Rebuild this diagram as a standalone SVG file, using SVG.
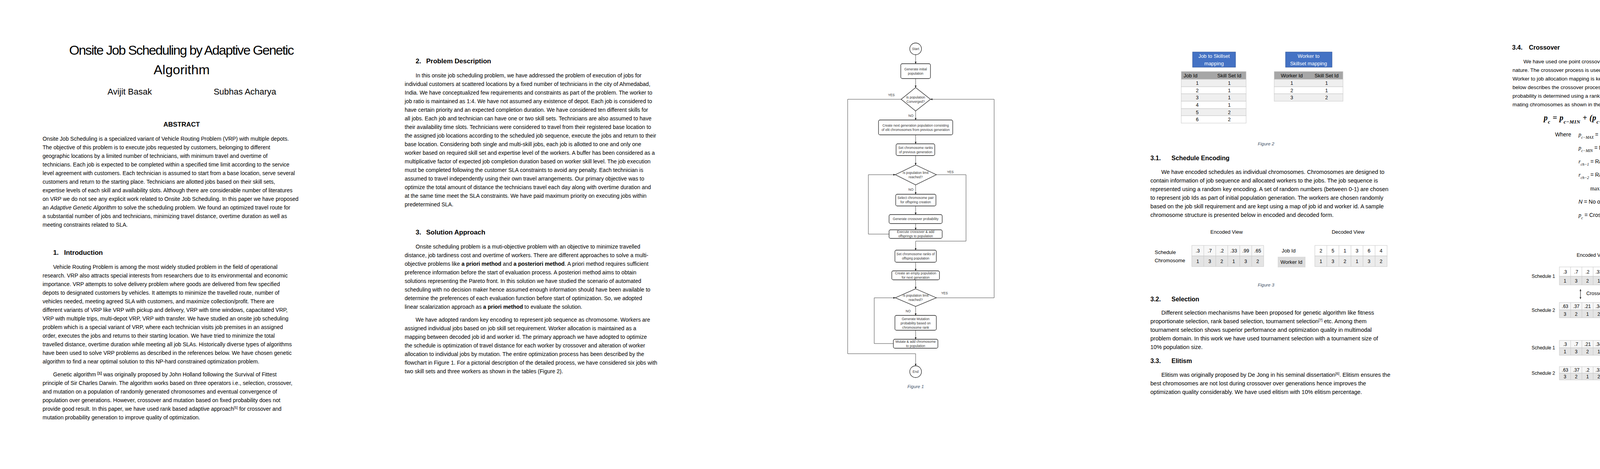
<svg xmlns="http://www.w3.org/2000/svg" width="4635" height="1200" viewBox="0 0 4635 1200">
<style>
text{font-family:"Liberation Sans",Arial,sans-serif;fill:#000}
.t1{font-size:14px}
.t2{font-size:14px}
.t3{font-size:14.5px}
.h{font-size:17px;font-weight:bold}
.hs{font-size:16px;font-weight:bold}
.cap{font-size:11.5px;font-style:italic;fill:#44546a}
.fc{font-size:8.6px;fill:#333;text-anchor:middle}
.fl{font-size:8.6px;fill:#333}
.nd rect,.nd polygon,.nd circle{fill:#fff;stroke:#222;stroke-width:1.3}
.cn{fill:none;stroke:#444;stroke-width:1}
.blue{fill:#4472c4;stroke:#2f5597;stroke-width:1}
.bw{font-size:13px;fill:#fff;text-anchor:middle}
.c{text-anchor:middle}
.cell{font-size:12.5px;text-anchor:middle}
.r1{fill:#f7f7f7;stroke:#c8c8c8;stroke-width:1}
.r2{fill:#e4e4e4;stroke:#c8c8c8;stroke-width:1}
.sep{stroke:#c8c8c8;stroke-width:1}
.m{font-family:"Liberation Serif",serif;font-style:italic;font-weight:bold}
.mi{font-family:"Liberation Serif",serif;font-style:italic}
</style>
<defs>
<marker id="ah" viewBox="0 0 10 10" refX="10" refY="5" markerWidth="5" markerHeight="5" orient="auto"><path d="M0,0L10,5L0,10z" fill="#222"/></marker>
<marker id="ah2" viewBox="0 0 10 10" refX="10" refY="5" markerWidth="4" markerHeight="4" orient="auto-start-reverse"><path d="M0,0L10,5L0,10z" fill="#333"/></marker>
</defs>
<rect width="4635" height="1200" fill="#fff"/>

<!-- Column 1 -->
<g id="col1">
<text x="465" y="140" class="c" style="font-size:34px" textLength="576">Onsite Job Scheduling by Adaptive Genetic</text>
<text x="465" y="190" class="c" style="font-size:34px">Algorithm</text>
<text x="332" y="242" class="c" style="font-size:22px">Avijit Basak</text>
<text x="627" y="242" class="c" style="font-size:22px">Subhas Acharya</text>
<text x="465" y="324" class="c" style="font-size:17px;font-weight:bold">ABSTRACT</text>
<g class="t1">
<text x="109" y="360">Onsite Job Scheduling is a specialized variant of Vehicle Routing Problem (VRP) with multiple depots.</text>
<text x="109" y="382">The objective of this problem is to execute jobs requested by customers, belonging to different</text>
<text x="109" y="404">geographic locations by a limited number of technicians, with minimum travel and overtime of</text>
<text x="109" y="426">technicians. Each job is expected to be completed within a specified time limit according to the service</text>
<text x="109" y="448">level agreement with customers. Each technician is assumed to start from a base location, serve several</text>
<text x="109" y="470">customers and return to the starting place. Technicians are allotted jobs based on their skill sets,</text>
<text x="109" y="492">expertise levels of each skill and availability slots. Although there are considerable number of literatures</text>
<text x="109" y="514">on VRP we do not see any explicit work related to Onsite Job Scheduling. In this paper we have proposed</text>
<text x="109" y="536">an <tspan font-style="italic">Adaptive Genetic Algorithm</tspan> to solve the scheduling problem. We found an optimized travel route for</text>
<text x="109" y="558">a substantial number of jobs and technicians, minimizing travel distance, overtime duration as well as</text>
<text x="109" y="580">meeting constraints related to SLA.</text>
</g>
<text x="136" y="652" class="h">1.<tspan x="164">Introduction</tspan></text>
<g class="t1">
<text x="136" y="688">Vehicle Routing Problem is among the most widely studied problem in the field of operational</text>
<text x="109" y="710">research. VRP also attracts special interests from researchers due to its environmental and economic</text>
<text x="109" y="732">importance. VRP attempts to solve delivery problem where goods are delivered from few specified</text>
<text x="109" y="754">depots to designated customers by vehicles. It attempts to minimize the travelled route, number of</text>
<text x="109" y="776">vehicles needed, meeting agreed SLA with customers, and maximize collection/profit. There are</text>
<text x="109" y="798">different variants of VRP like VRP with pickup and delivery, VRP with time windows, capacitated VRP,</text>
<text x="109" y="820">VRP with multiple trips, multi-depot VRP, VRP with transfer. We have studied an onsite job scheduling</text>
<text x="109" y="842">problem which is a special variant of VRP, where each technician visits job premises in an assigned</text>
<text x="109" y="864">order, executes the jobs and returns to their starting location. We have tried to minimize the total</text>
<text x="109" y="886">travelled distance, overtime duration while meeting all job SLAs. Historically diverse types of algorithms</text>
<text x="109" y="908">have been used to solve VRP problems as described in the references below. We have chosen genetic</text>
<text x="109" y="930">algorithm to find a near optimal solution to this NP-hard constrained optimization problem.</text>
<text x="136" y="963">Genetic algorithm <tspan font-size="9" baseline-shift="super" font-weight="bold">[1]</tspan> was originally proposed by John Holland following the Survival of Fittest</text>
<text x="109" y="985">principle of Sir Charles Darwin. The algorithm works based on three operators i.e., selection, crossover,</text>
<text x="109" y="1007">and mutation on a population of randomly generated chromosomes and eventual convergence of</text>
<text x="109" y="1029">population over generations. However, crossover and mutation based on fixed probability does not</text>
<text x="109" y="1051">provide good result. In this paper, we have used rank based adaptive approach<tspan font-size="9" baseline-shift="super">[5]</tspan> for crossover and</text>
<text x="109" y="1073">mutation probability generation to improve quality of optimization.</text>
</g>
</g>

<!-- Column 2 -->
<g id="col2">
<text x="1064" y="162" class="h">2.<tspan x="1091">Problem Description</tspan></text>
<g class="t2">
<text x="1064" y="198">In this onsite job scheduling problem, we have addressed the problem of execution of jobs for</text>
<text x="1036" y="220">individual customers at scattered locations by a fixed number of technicians in the city of Ahmedabad,</text>
<text x="1036" y="242">India. We have conceptualized few requirements and constraints as part of the problem. The worker to</text>
<text x="1036" y="264">job ratio is maintained as 1:4. We have not assumed any existence of depot. Each job is considered to</text>
<text x="1036" y="286">have certain priority and an expected completion duration. We have considered ten different skills for</text>
<text x="1036" y="308">all jobs. Each job and technician can have one or two skill sets. Technicians are also assumed to have</text>
<text x="1036" y="330">their availability time slots. Technicians were considered to travel from their registered base location to</text>
<text x="1036" y="352">the assigned job locations according to the scheduled job sequence, execute the jobs and return to their</text>
<text x="1036" y="374">base location. Considering both single and multi-skill jobs, each job is allotted to one and only one</text>
<text x="1036" y="396">worker based on required skill set and expertise level of the workers. A buffer has been considered as a</text>
<text x="1036" y="418">multiplicative factor of expected job completion duration based on worker skill level. The job execution</text>
<text x="1036" y="440">must be completed following the customer SLA constraints to avoid any penalty. Each technician is</text>
<text x="1036" y="462">assumed to travel independently using their own travel arrangements. Our primary objective was to</text>
<text x="1036" y="484">optimize the total amount of distance the technicians travel each day along with overtime duration and</text>
<text x="1036" y="506">at the same time meet the SLA constraints. We have paid maximum priority on executing jobs within</text>
<text x="1036" y="528">predetermined SLA.</text>
</g>
<text x="1064" y="600" class="h">3.<tspan x="1091">Solution Approach</tspan></text>
<g class="t2">
<text x="1064" y="636">Onsite scheduling problem is a muti-objective problem with an objective to minimize travelled</text>
<text x="1036" y="658">distance, job tardiness cost and overtime of workers. There are different approaches to solve a multi-</text>
<text x="1036" y="680">objective problems like <tspan font-weight="bold">a priori method</tspan> and <tspan font-weight="bold">a posteriori method</tspan>. A priori method requires sufficient</text>
<text x="1036" y="702">preference information before the start of evaluation process. A posteriori method aims to obtain</text>
<text x="1036" y="724">solutions representing the Pareto front. In this solution we have studied the scenario of automated</text>
<text x="1036" y="746">scheduling with no decision maker hence assumed enough information should have been available to</text>
<text x="1036" y="768">determine the preferences of each evaluation function before start of optimization. So, we adopted</text>
<text x="1036" y="790">linear scalarization approach as <tspan font-weight="bold">a priori method</tspan> to evaluate the solution.</text>
<text x="1064" y="823">We have adopted random key encoding to represent job sequence as chromosome. Workers are</text>
<text x="1036" y="845">assigned individual jobs based on job skill set requirement. Worker allocation is maintained as a</text>
<text x="1036" y="867">mapping between decoded job id and worker id. The primary approach we have adopted to optimize</text>
<text x="1036" y="889">the schedule is optimization of travel distance for each worker by crossover and alteration of worker</text>
<text x="1036" y="911">allocation to individual jobs by mutation. The entire optimization process has been described by the</text>
<text x="1036" y="933">flowchart in Figure 1. For a pictorial description of the detailed process, we have considered six jobs with</text>
<text x="1036" y="955">two skill sets and three workers as shown in the tables (Figure 2).</text>
</g>
</g>

<!-- Flowchart connectors -->
<g id="connectors" class="cn">
<path d="M2344,140V163" marker-end="url(#ah)"/>
<path d="M2344,201V224" marker-end="url(#ah)"/>
<path d="M2344,284V307" marker-end="url(#ah)"/>
<path d="M2344,345V368" marker-end="url(#ah)"/>
<path d="M2344,398V422" marker-end="url(#ah)"/>
<path d="M2344,473V497" marker-end="url(#ah)"/>
<path d="M2344,527V549" marker-end="url(#ah)"/>
<path d="M2344,572V588" marker-end="url(#ah)"/>
<path d="M2276,599H2223V447H2292" marker-end="url(#ah)"/>
<path d="M2397,447H2473V617H2344V640" marker-end="url(#ah)"/>
<path d="M2344,671V693" marker-end="url(#ah)"/>
<path d="M2344,716V739" marker-end="url(#ah)"/>
<path d="M2344,784V807" marker-end="url(#ah)"/>
<path d="M2344,845V868" marker-end="url(#ah)"/>
<path d="M2287,879H2238V762H2292" marker-end="url(#ah)"/>
<path d="M2397,762H2545V254H2382" marker-end="url(#ah)"/>
<path d="M2307,254H2170V905H2344V936" marker-end="url(#ah)"/>
</g>
<g id="conn-labels">
<text x="2282" y="246" class="fl" text-anchor="middle">YES</text>
<text x="2332" y="299" class="fl" text-anchor="middle">NO</text>
<text x="2433" y="443" class="fl" text-anchor="middle">YES</text>
<text x="2332" y="488" class="fl" text-anchor="middle">NO</text>
<text x="2418" y="753" class="fl" text-anchor="middle">YES</text>
<text x="2325" y="799" class="fl" text-anchor="middle">NO</text>
</g>
<g id="start" class="nd"><circle cx="2344" cy="125" r="15"/><text x="2344" y="128" class="fc">Start</text></g>
<g id="genpop" class="nd"><rect x="2306" y="163" width="76" height="38" rx="4"/><text x="2344" y="180" class="fc">Generate initial</text><text x="2344" y="191" class="fc">population</text></g>
<g id="conv" class="nd"><polygon points="2344,224 2382,254 2344,284 2307,254"/><text x="2344" y="252" class="fc">Is population</text><text x="2344" y="263" class="fc">Converged?</text></g>
<g id="nextgen" class="nd"><rect x="2249" y="307" width="190" height="38" rx="4"/><text x="2344" y="324" class="fc">Create next generation  population consisting</text><text x="2344" y="335" class="fc">of elit chromosomes from previous generation</text></g>
<g id="ranks1" class="nd"><rect x="2294" y="368" width="99" height="30" rx="4"/><text x="2344" y="381" class="fc">Set chromosome ranks</text><text x="2344" y="392" class="fc">of previous generation</text></g>
<g id="limit1" class="nd"><polygon points="2344,422 2397,447 2344,473 2292,447"/><text x="2344" y="445" class="fc">Is population limit</text><text x="2344" y="456" class="fc">reached?</text></g>
<g id="select" class="nd"><rect x="2293" y="497" width="103" height="30" rx="4"/><text x="2344" y="509" class="fc">Select chromosome pair</text><text x="2344" y="520" class="fc">for offspring creation</text></g>
<g id="genxo" class="nd"><rect x="2276" y="549" width="136" height="23" rx="4"/><text x="2344" y="563" class="fc">Generate crossover probability</text></g>
<g id="execxo" class="nd"><rect x="2276" y="588" width="136" height="22" rx="4"/><text x="2344" y="596" class="fc">Execute crossover &amp; add</text><text x="2344" y="607" class="fc">offsprings to population</text></g>
<g id="ranks2" class="nd"><rect x="2291" y="640" width="106" height="31" rx="4"/><text x="2344" y="653" class="fc">Set chromosome ranks of</text><text x="2344" y="664" class="fc">offsprig population</text></g>
<g id="empty" class="nd"><rect x="2283" y="693" width="122" height="23" rx="4"/><text x="2344" y="702" class="fc">Create an empty population</text><text x="2344" y="713" class="fc">for next generation</text></g>
<g id="limit2" class="nd"><polygon points="2344,739 2397,762 2344,784 2292,762"/><text x="2344" y="759" class="fc">Is population limit</text><text x="2344" y="770" class="fc">reached?</text></g>
<g id="mutprob" class="nd"><rect x="2291" y="807" width="106" height="38" rx="4"/><text x="2344" y="819" class="fc">Generate Mutation</text><text x="2344" y="830" class="fc">probability based on</text><text x="2344" y="841" class="fc">chromosome rank</text></g>
<g id="mutate" class="nd"><rect x="2287" y="868" width="114" height="23" rx="4"/><text x="2344" y="877" class="fc">Mutate &amp; add chromosome</text><text x="2344" y="888" class="fc">to population</text></g>
<g id="end" class="nd"><circle cx="2344" cy="951" r="15"/><text x="2344" y="954" class="fc">End</text></g>
<text x="2344" y="993" class="cap c">Figure 1</text>

<!-- Column 3 -->
<g id="fig2">
<rect x="3053" y="133" width="110" height="39" class="blue"/>
<text x="3108" y="148" class="bw">Job to Skillset</text><text x="3108" y="167" class="bw">mapping</text>
<rect x="3291" y="133" width="119" height="39" class="blue"/>
<text x="3350" y="148" class="bw">Worker to</text><text x="3350" y="167" class="bw">Skillset mapping</text>
<rect x="3024" y="183" width="166" height="20" fill="#a6a6a6" stroke="#c8c8c8"/>
<text x="3030" y="198" style="font-size:13px">Job Id</text><text x="3147" y="198" class="c" style="font-size:13px">Skill Set Id</text>
<rect x="3024" y="203" width="166" height="19" class="r1" style="fill:#efefef"/>
<rect x="3024" y="222" width="166" height="18" class="r1" style="fill:#fff"/>
<rect x="3024" y="240" width="166" height="19" class="r1" style="fill:#efefef"/>
<rect x="3024" y="259" width="166" height="19" class="r1" style="fill:#fff"/>
<rect x="3024" y="278" width="166" height="18" class="r1" style="fill:#efefef"/>
<rect x="3024" y="296" width="166" height="19" class="r1" style="fill:#fff"/>
<g class="cell">
<text x="3065" y="217">1</text><text x="3147" y="217">1</text>
<text x="3065" y="236">2</text><text x="3147" y="236">1</text>
<text x="3065" y="254">3</text><text x="3147" y="254">1</text>
<text x="3065" y="273">4</text><text x="3147" y="273">1</text>
<text x="3065" y="292">5</text><text x="3147" y="292">2</text>
<text x="3065" y="310">6</text><text x="3147" y="310">2</text>
</g>
<rect x="3262" y="183" width="176" height="20" fill="#a6a6a6" stroke="#c8c8c8"/>
<text x="3307" y="198" class="c" style="font-size:13px">Worker Id</text><text x="3396" y="198" class="c" style="font-size:13px">Skill Set Id</text>
<rect x="3262" y="203" width="176" height="19" class="r1" style="fill:#efefef"/>
<rect x="3262" y="222" width="176" height="18" class="r1" style="fill:#fff"/>
<rect x="3262" y="240" width="176" height="19" class="r1" style="fill:#efefef"/>
<g class="cell">
<text x="3307" y="217">1</text><text x="3396" y="217">1</text>
<text x="3307" y="236">2</text><text x="3396" y="236">1</text>
<text x="3307" y="254">3</text><text x="3396" y="254">2</text>
</g>
<text x="3241" y="372" class="cap c">Figure 2</text>
</g>
<text x="2945" y="410" class="hs">3.1.<tspan x="2999">Schedule Encoding</tspan></text>
<g class="t3">
<text x="2973" y="445">We have encoded schedules as individual chromosomes. Chromosomes are designed to</text>
<text x="2945" y="467">contain information of job sequence and allocated workers to the jobs. The job sequence is</text>
<text x="2945" y="489">represented using a random key encoding. A set of random numbers (between 0-1) are chosen</text>
<text x="2945" y="511">to represent job Ids as part of initial population generation. The workers are chosen randomly</text>
<text x="2945" y="533">based on the job skill requirement and are kept using a map of job id and worker id. A sample</text>
<text x="2945" y="555">chromosome structure is presented below in encoded and decoded form.</text>
</g>
<g id="fig3">
<text x="3140" y="598" class="c" style="font-size:13px">Encoded View</text>
<text x="3451" y="598" class="c" style="font-size:13px">Decoded View</text>
<text x="2956" y="650" style="font-size:13px">Schedule</text>
<text x="2956" y="671" style="font-size:13px">Chromosome</text>
<rect x="3051" y="628" width="184" height="27" class="r1"/><rect x="3051" y="655" width="184" height="27" class="r2"/>
<path class="sep" d="M3081.7,628V682M3112.3,628V682M3143,628V682M3173.7,628V682M3204.3,628V682"/>
<g class="cell">
<text x="3066.3" y="646">.3</text><text x="3097" y="646">.7</text><text x="3127.7" y="646">.2</text><text x="3158.3" y="646">.33</text><text x="3189" y="646">.99</text><text x="3219.7" y="646">.65</text>
<text x="3066.3" y="673">1</text><text x="3097" y="673">3</text><text x="3127.7" y="673">2</text><text x="3158.3" y="673">1</text><text x="3189" y="673">3</text><text x="3219.7" y="673">2</text>
</g>
<text x="3299" y="646" class="c" style="font-size:13px">Job Id</text>
<rect x="3271" y="657" width="71" height="27" fill="#dcdcdc"/>
<text x="3306" y="675" class="c" style="font-size:13px">Worker Id</text>
<rect x="3366" y="628" width="185" height="27" class="r1" style="fill:#fff"/><rect x="3366" y="655" width="185" height="27" class="r2" style="fill:#ececec"/>
<path class="sep" d="M3396.8,628V682M3427.7,628V682M3458.5,628V682M3489.3,628V682M3520.2,628V682"/>
<g class="cell">
<text x="3381.4" y="646">2</text><text x="3412.3" y="646">5</text><text x="3443.1" y="646">1</text><text x="3473.9" y="646">3</text><text x="3504.8" y="646">6</text><text x="3535.6" y="646">4</text>
<text x="3381.4" y="673">1</text><text x="3412.3" y="673">3</text><text x="3443.1" y="673">2</text><text x="3473.9" y="673">1</text><text x="3504.8" y="673">3</text><text x="3535.6" y="673">2</text>
</g>
<text x="3241" y="733" class="cap c">Figure 3</text>
</g>
<text x="2945" y="771" class="hs">3.2.<tspan x="2999">Selection</tspan></text>
<g class="t3">
<text x="2973" y="805">Different selection mechanisms have been proposed for genetic algorithm like fitness</text>
<text x="2945" y="827">proportionate selection, rank based selection, tournament selection<tspan font-size="9" baseline-shift="super">[7]</tspan> etc. Among them</text>
<text x="2945" y="849">tournament selection shows superior performance and optimization quality in multimodal</text>
<text x="2945" y="871">problem domain. In this work we have used tournament selection with a tournament size of</text>
<text x="2945" y="893">10% population size.</text>
</g>
<text x="2945" y="929" class="hs">3.3.<tspan x="2999">Elitism</tspan></text>
<g class="t3">
<text x="2973" y="964">Elitism was originally proposed by De Jong in his seminal dissertation<tspan font-size="9" baseline-shift="super">[6]</tspan>. Elitism ensures the</text>
<text x="2945" y="986">best chromosomes are not lost during crossover over generations hence improves the</text>
<text x="2945" y="1008">optimization quality considerably. We have used elitism with 10% elitism percentage.</text>
</g>

<!-- Column 4 -->
<text x="3871" y="127" class="hs">3.4.<tspan x="3914">Crossover</tspan></text>
<g class="t1" style="font-size:13.5px">
<text x="3900" y="162">We have used one point crossover as part of the optimization process due to its simplistic</text>
<text x="3872" y="184">nature. The crossover process is used to optimize the job execution sequence of each worker.</text>
<text x="3872" y="206">Worker to job allocation mapping is kept unaltered in the offspring chromosomes. The diagram</text>
<text x="3872" y="228">below describes the crossover process in both encoded and decoded views. The crossover</text>
<text x="3872" y="250">probability is determined using a rank based adaptive approach based on maximum rank of</text>
<text x="3872" y="272">mating chromosomes as shown in the equation below.</text>
</g>
<g id="formula">
<text x="3952" y="308" class="m" style="font-size:20px" textLength="330">p<tspan font-size="13" baseline-shift="sub">c</tspan> = p<tspan font-size="13" baseline-shift="sub">c−MIN</tspan> + (p<tspan font-size="13" baseline-shift="sub">c−MAX</tspan> − p<tspan font-size="13" baseline-shift="sub">c−MIN</tspan>) ∗ (1 −</text>
<text x="4290" y="299" style="font-family:'Liberation Serif',serif;font-weight:bold;font-size:12px">max (<tspan class="mi">r</tspan><tspan font-size="8" baseline-shift="sub" class="mi">ch−1</tspan>,<tspan class="mi">r</tspan><tspan font-size="8" baseline-shift="sub" class="mi">ch−2</tspan>) − 1</text>
<path d="M4288,303H4428" stroke="#000" stroke-width="1"/>
<text x="4357" y="320" class="m c" style="font-size:13px">N−1</text>
<text x="4428" y="308" class="m" style="font-size:20px">)</text>
<g style="font-size:14px">
<text x="3981" y="349">Where</text>
<text x="4041" y="349"><tspan class="mi">p</tspan><tspan class="mi" font-size="10" baseline-shift="sub">c−MAX</tspan> = Maximum crossover probability</text>
<text x="4041" y="383"><tspan class="mi">p</tspan><tspan class="mi" font-size="10" baseline-shift="sub">c−MIN</tspan> = Minimum crossover probability</text>
<text x="4041" y="418"><tspan class="mi">r</tspan><tspan class="mi" font-size="10" baseline-shift="sub">ch−1</tspan> = Rank of chromosome 1</text>
<text x="4041" y="452"><tspan class="mi">r</tspan><tspan class="mi" font-size="10" baseline-shift="sub">ch−2</tspan> = Rank of chromosome 2</text>
<text x="4071" y="487"><tspan style="font-family:'Liberation Serif',serif">max (</tspan><tspan class="mi">r</tspan><tspan class="mi" font-size="10" baseline-shift="sub">ch−1</tspan>,<tspan class="mi">r</tspan><tspan class="mi" font-size="10" baseline-shift="sub">ch−2</tspan>) = Maximum of <tspan class="mi">r</tspan><tspan class="mi" font-size="10" baseline-shift="sub">ch−1</tspan> and <tspan class="mi">r</tspan><tspan class="mi" font-size="10" baseline-shift="sub">ch−2</tspan></text>
<text x="4041" y="521"><tspan font-style="italic">N</tspan> = No of chromosome in population</text>
<text x="4041" y="555"><tspan class="mi">p</tspan><tspan class="mi" font-size="10" baseline-shift="sub">c</tspan> = Crossover probability</text>
</g>
</g>

<g id="fig4">
<rect x="4135" y="617" width="164" height="27" class="blue"/>
<text x="4217" y="635" class="bw">Crossover Process</text>
<text x="4076" y="657" class="c" style="font-size:12.5px">Encoded View</text>
<text x="4367" y="657" class="c" style="font-size:12.5px">Decoded View</text>
<g style="font-size:12px">
<text x="3981" y="711" text-anchor="end">Schedule 1</text>
<text x="3981" y="798" text-anchor="end">Schedule 2</text>
<text x="3981" y="894" text-anchor="end">Schedule 1</text>
<text x="3981" y="959" text-anchor="end">Schedule 2</text>
</g>
<text x="4225" y="699" class="c" style="font-size:12.5px">Job Id</text>
<rect x="4198" y="708" width="67" height="23" fill="#dcdcdc"/>
<text x="4231" y="724" class="c" style="font-size:12.5px">Worker Id</text>
<rect x="3992" y="683" width="173" height="24" class="r1" style="fill:#fff"/><rect x="3992" y="707" width="173" height="22" class="r2"/>
<rect x="4288" y="683" width="173" height="24" class="r1" style="fill:#fff"/><rect x="4288" y="707" width="173" height="22" class="r2"/>
<rect x="3992" y="774" width="173" height="19" class="r1"/><rect x="3992" y="793" width="173" height="20" class="r2"/>
<rect x="4288" y="774" width="173" height="19" class="r1"/><rect x="4288" y="793" width="173" height="20" class="r2"/>
<rect x="3992" y="871" width="173" height="19" class="r1"/><rect x="3992" y="890" width="173" height="19" class="r2"/>
<rect x="4288" y="871" width="173" height="19" class="r1"/><rect x="4288" y="890" width="173" height="19" class="r2"/>
<rect x="3992" y="938" width="173" height="17" class="r1"/><rect x="3992" y="955" width="173" height="17" class="r2"/>
<rect x="4288" y="938" width="173" height="17" class="r1"/><rect x="4288" y="955" width="173" height="17" class="r2"/>
<path class="sep" d="M4020.8,683V729M4049.6,683V729M4078.4,683V729M4107.2,683V729M4136,683V729M4316.8,683V729M4345.6,683V729M4374.4,683V729M4403.2,683V729M4432,683V729
M4020.8,774V813M4049.6,774V813M4078.4,774V813M4107.2,774V813M4136,774V813M4316.8,774V813M4345.6,774V813M4374.4,774V813M4403.2,774V813M4432,774V813
M4020.8,871V909M4049.6,871V909M4078.4,871V909M4107.2,871V909M4136,871V909M4316.8,871V909M4345.6,871V909M4374.4,871V909M4403.2,871V909M4432,871V909
M4020.8,938V972M4049.6,938V972M4078.4,938V972M4107.2,938V972M4136,938V972M4316.8,938V972M4345.6,938V972M4374.4,938V972M4403.2,938V972M4432,938V972"/>
<g class="cell" style="font-size:12px">
<text x="4006.4" y="700">.3</text><text x="4035.2" y="700">.7</text><text x="4064" y="700">.2</text><text x="4092.8" y="700">.33</text><text x="4121.6" y="700">.99</text><text x="4150.4" y="700">.65</text>
<text x="4006.4" y="723">1</text><text x="4035.2" y="723">3</text><text x="4064" y="723">2</text><text x="4092.8" y="723">1</text><text x="4121.6" y="723">3</text><text x="4150.4" y="723">2</text>
<text x="4302.4" y="700">2</text><text x="4331.2" y="700">5</text><text x="4360" y="700">1</text><text x="4388.8" y="700">3</text><text x="4417.6" y="700">6</text><text x="4446.4" y="700">4</text>
<text x="4302.4" y="723">1</text><text x="4331.2" y="723">3</text><text x="4360" y="723">2</text><text x="4388.8" y="723">1</text><text x="4417.6" y="723">3</text><text x="4446.4" y="723">2</text>
<text x="4006.4" y="788">.63</text><text x="4035.2" y="788">.37</text><text x="4064" y="788">.21</text><text x="4092.8" y="788">.34</text><text x="4121.6" y="788">.38</text><text x="4150.4" y="788">.55</text>
<text x="4006.4" y="808">3</text><text x="4035.2" y="808">2</text><text x="4064" y="808">1</text><text x="4092.8" y="808">2</text><text x="4121.6" y="808">1</text><text x="4150.4" y="808">3</text>
<text x="4302.4" y="788">6</text><text x="4331.2" y="788">3</text><text x="4360" y="788">1</text><text x="4388.8" y="788">2</text><text x="4417.6" y="788">4</text><text x="4446.4" y="788">5</text>
<text x="4302.4" y="808">3</text><text x="4331.2" y="808">2</text><text x="4360" y="808">1</text><text x="4388.8" y="808">2</text><text x="4417.6" y="808">1</text><text x="4446.4" y="808">3</text>
<text x="4006.4" y="885">.3</text><text x="4035.2" y="885">.7</text><text x="4064" y="885">.21</text><text x="4092.8" y="885">.34</text><text x="4121.6" y="885">.38</text><text x="4150.4" y="885">.55</text>
<text x="4006.4" y="904">1</text><text x="4035.2" y="904">3</text><text x="4064" y="904">2</text><text x="4092.8" y="904">1</text><text x="4121.6" y="904">3</text><text x="4150.4" y="904">2</text>
<text x="4302.4" y="885">2</text><text x="4331.2" y="885">6</text><text x="4360" y="885">1</text><text x="4388.8" y="885">3</text><text x="4417.6" y="885">4</text><text x="4446.4" y="885">5</text>
<text x="4302.4" y="904">1</text><text x="4331.2" y="904">3</text><text x="4360" y="904">2</text><text x="4388.8" y="904">1</text><text x="4417.6" y="904">2</text><text x="4446.4" y="904">3</text>
<text x="4006.4" y="951">.63</text><text x="4035.2" y="951">.37</text><text x="4064" y="951">.2</text><text x="4092.8" y="951">.33</text><text x="4121.6" y="951">.99</text><text x="4150.4" y="951">.65</text>
<text x="4006.4" y="968">3</text><text x="4035.2" y="968">2</text><text x="4064" y="968">1</text><text x="4092.8" y="968">2</text><text x="4121.6" y="968">1</text><text x="4150.4" y="968">3</text>
<text x="4302.4" y="951">4</text><text x="4331.2" y="951">3</text><text x="4360" y="951">1</text><text x="4388.8" y="951">2</text><text x="4417.6" y="951">6</text><text x="4446.4" y="951">5</text>
<text x="4302.4" y="968">1</text><text x="4331.2" y="968">2</text><text x="4360" y="968">1</text><text x="4388.8" y="968">2</text><text x="4417.6" y="968">3</text><text x="4446.4" y="968">3</text>
</g>
<path d="M4046,740V765" stroke="#333" stroke-width="1.2" marker-start="url(#ah2)" marker-end="url(#ah2)"/>
<text x="4061" y="755" style="font-size:12.5px">Crossover site</text>
<path d="M4341,740V765" stroke="#333" stroke-width="1.2" marker-start="url(#ah2)" marker-end="url(#ah2)"/>
<text x="4356" y="755" style="font-size:12.5px">Crossover site</text>
<polygon points="4204,827 4251,827 4251,845 4274,845 4227,863 4181,845 4204,845" fill="#a5a5a5"/>
<text x="4227" y="844" class="c" style="font-size:11.5px;fill:#fff">Result</text>
<text x="4186" y="1010" class="cap c">Figure 4</text>
</g>
</svg>
